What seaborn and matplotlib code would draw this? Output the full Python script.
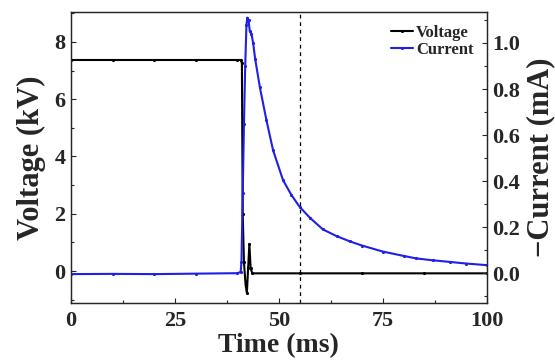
import numpy as np
import pandas as pd
import matplotlib
matplotlib.use("Agg")
import matplotlib.pyplot as plt
import seaborn as sns
from matplotlib.ticker import MultipleLocator

# Voltage trace (kV)
v_time = [0, 10, 20, 30, 40, 40.9, 41.1, 41.3, 41.6, 42.0, 42.3, 42.6, 42.9, 43.2, 43.6, 55, 70, 85, 100]
v_kv = [7.37, 7.37, 7.37, 7.37, 7.37, 7.37, 7.25, 2.0, 0.3, -0.5, -0.75, 0.1, 0.95, 0.1, -0.08, -0.08, -0.08, -0.08, -0.08]

# Current trace (-mA)
i_time = [0, 10, 20, 30, 40, 40.8, 41.0, 41.3, 41.6, 41.9, 42.2, 42.4, 42.7, 43.0, 43.4, 43.8,
          44.3, 45.4, 47.0, 48.6, 51.0, 53.0, 55.0, 57.5, 60.6, 64.0, 67.1, 70.0, 75.0, 80.0, 83.1,
          87.0, 91.1, 95.0, 100]
i_ma = [-0.004, -0.003, -0.004, -0.002, 0.0, 0.005, 0.05, 0.35, 0.65, 0.9, 1.08, 1.11, 1.10, 1.05,
        1.04, 1.0, 0.93, 0.81, 0.665, 0.534, 0.404, 0.34, 0.288, 0.24, 0.19, 0.16, 0.138, 0.12, 0.094,
        0.075, 0.064, 0.056, 0.049, 0.042, 0.035]

marker_line = 55

sns.set_style("ticks")
plt.rcParams['font.family'] = ['Liberation Serif', 'DejaVu Serif']
plt.rcParams['font.weight'] = 'bold'
plt.rcParams['axes.labelweight'] = 'bold'

df_v = pd.DataFrame({'t': v_time, 'v': v_kv})
df_i = pd.DataFrame({'t': i_time, 'i': i_ma})

fig = plt.figure(figsize=(5.55, 3.6), dpi=100)
ax = fig.add_axes([0.128, 0.158, 0.749, 0.809])
ax2 = ax.twinx()

sns.lineplot(data=df_v, x='t', y='v', ax=ax, color='black', lw=1.5,
             marker='.', markersize=3, markeredgecolor='black',
             label='Voltage', legend=False)
sns.lineplot(data=df_i, x='t', y='i', ax=ax2, color='#1f1fe6', lw=1.5,
             marker='.', markersize=3, markeredgecolor='#1f1fe6',
             label='Current', legend=False)
ax.axvline(marker_line, color='black', ls=(0, (3, 3)), lw=0.9)

ax.set_xlim(0, 100)
ax.set_ylim(-1.12, 9.05)
ax2.set_ylim(-0.13, 1.135)

ax.set_xlabel('Time (ms)', fontsize=20, labelpad=1)
ax.set_ylabel('Voltage (kV)', fontsize=22, labelpad=6)
ax2.set_ylabel('\u2212Current (mA)', fontsize=22, labelpad=4)

x_ticks = [0, 25, 50, 75, 100]
v_ticks = [0, 2, 4, 6, 8]
i_ticks = [0.0, 0.2, 0.4, 0.6, 0.8, 1.0]
ax.set_xticks(x_ticks, [str(t) for t in x_ticks], fontweight='bold', fontsize=16)
ax.set_yticks(v_ticks, [str(t) for t in v_ticks], fontweight='bold', fontsize=16)
ax2.set_yticks(i_ticks, [f'{t:.1f}' for t in i_ticks], fontweight='bold', fontsize=16)
ax.xaxis.set_minor_locator(MultipleLocator(12.5))
ax.yaxis.set_minor_locator(MultipleLocator(1))
ax2.yaxis.set_minor_locator(MultipleLocator(0.1))

for a in (ax, ax2):
    a.tick_params(which='both', direction='in', pad=4)
    a.tick_params(which='major', length=3.5, width=0.8)
    a.tick_params(which='minor', length=2, width=0.8)
    for s in a.spines.values():
        s.set_linewidth(0.9)
ax.tick_params(axis='x', pad=6)

h1, l1 = ax.get_legend_handles_labels()
h2, l2 = ax2.get_legend_handles_labels()
ax2.legend(h1 + h2, l1 + l2, loc='upper right', frameon=False,
           handlelength=1.3, handletextpad=0.2, labelspacing=0.05,
           borderaxespad=0.4, prop={'weight': 'bold', 'size': 12})

fig.savefig('out.png', dpi=100)
